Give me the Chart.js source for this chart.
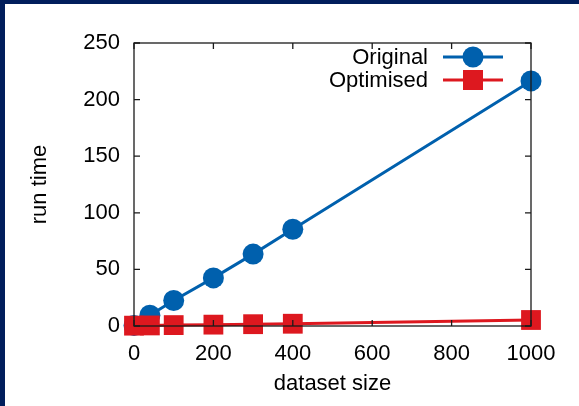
<!DOCTYPE html>
<html>
<head>
<meta charset="utf-8">
<script src="https://cdn.jsdelivr.net/npm/chart.js@4/dist/chart.umd.min.js"></script>
<style>
  html, body { margin: 0; padding: 0; background: #011e5c; }
  #wrap { position: absolute; left: 5px; top: 4px; width: 574px; height: 402px; background: #fff; }
</style>
</head>
<body>
<div id="wrap"><canvas id="c" width="574" height="402"></canvas></div>
<script>
    // dataset sizes (shared by both series)
    var sizes = [0, 40, 100, 200, 300, 400, 1000];
    var originalTimes = [0.5, 9.5, 22.5, 42.5, 63.5, 85.5, 216.5];
    var optimisedTimes = [0.3, 0.5, 0.8, 1.2, 1.6, 2.0, 5.3];
    var xTicks = [0, 200, 400, 600, 800, 1000];
    var yTicks = [0, 50, 100, 150, 200, 250];

    var BLUE = '#0060ad';
    var RED = '#dd181f';
    var FONT = 'Liberation Sans, Arial, Helvetica, sans-serif';

    var toPoints = function(xs, ys) {
        var pts = [];
        for (let i = 0; i < xs.length; ++i) {
            pts.push({x: xs[i], y: ys[i]});
        }
        return pts;
    };

    // gnuplot style frame with inward ticks on all four sides
    var framePlugin = {
        id: 'frame',
        afterDatasetsDraw: function(chart) {
            var ctx = chart.ctx;
            var a = chart.chartArea;
            var xs = chart.scales.x, ys = chart.scales.y;
            var len = 6;
            ctx.save();
            ctx.strokeStyle = '#1a1a1a';
            ctx.lineWidth = 1.3;
            ctx.strokeRect(a.left, a.top, a.right - a.left, a.bottom - a.top);
            ctx.beginPath();
            xTicks.forEach(function(v) {
                var px = xs.getPixelForValue(v);
                ctx.moveTo(px, a.bottom); ctx.lineTo(px, a.bottom - len);
                ctx.moveTo(px, a.top); ctx.lineTo(px, a.top + len);
            });
            yTicks.forEach(function(v) {
                var py = ys.getPixelForValue(v);
                ctx.moveTo(a.left, py); ctx.lineTo(a.left + len, py);
                ctx.moveTo(a.right, py); ctx.lineTo(a.right - len, py);
            });
            ctx.stroke();
            ctx.restore();
        },
        afterDraw: function(chart) {
            // key in the top right corner, text on the left of the sample
            var ctx = chart.ctx;
            var ds = chart.data.datasets;
            var rows = [53, 76];
            ctx.save();
            ctx.font = '22px ' + FONT;
            ctx.textAlign = 'right';
            ctx.textBaseline = 'middle';
            ds.forEach(function(d, i) {
                var y = rows[i];
                ctx.fillStyle = '#000';
                ctx.fillText(d.label, 423, y + 1);
                ctx.strokeStyle = d.borderColor;
                ctx.lineWidth = 3;
                ctx.beginPath();
                ctx.moveTo(438, y); ctx.lineTo(498, y);
                ctx.stroke();
                ctx.fillStyle = d.borderColor;
                if (d.pointStyle === 'rect') {
                    ctx.fillRect(468 - 10, y - 10, 20, 20);
                } else {
                    ctx.beginPath();
                    ctx.arc(468, y, 10.5, 0, Math.PI * 2);
                    ctx.fill();
                }
            });
            ctx.restore();
        }
    };

    Chart.defaults.font.family = FONT;
    Chart.defaults.font.size = 22;
    Chart.defaults.color = '#000';

    var chart = new Chart(document.getElementById('c'), {
        type: 'scatter',
        data: {
            datasets: [{
                label: 'Original',
                data: toPoints(sizes, originalTimes),
                showLine: true,
                borderColor: BLUE,
                backgroundColor: BLUE,
                borderWidth: 3,
                pointStyle: 'circle',
                pointRadius: 10.5,
                pointBorderWidth: 0,
                clip: false,
                order: 2,
            }, {
                label: 'Optimised',
                data: toPoints(sizes, optimisedTimes),
                showLine: true,
                borderColor: RED,
                backgroundColor: RED,
                borderWidth: 3,
                pointStyle: 'rect',
                pointRadius: 14,
                pointBorderWidth: 0,
                clip: false,
                order: 1,
            }]
        },
        options: {
            responsive: false,
            animation: false,
            events: [],
            layout: { padding: { top: 39, right: 48, left: 0, bottom: 0 } },
            plugins: { legend: { display: false }, tooltip: { enabled: false } },
            scales: {
                x: {
                    type: 'linear',
                    min: 0, max: 1000,
                    grid: { display: false, drawTicks: false },
                    border: { display: false },
                    afterBuildTicks: function(s) { s.ticks = xTicks.map(function(v) { return {value: v}; }); },
                    afterFit: function(s) { s.height = 80; },
                    ticks: { padding: 15, maxRotation: 0, autoSkip: false, callback: function(v) { return String(v); } },
                    title: { display: true, text: 'dataset size', padding: { top: 0, bottom: 9 } }
                },
                y: {
                    type: 'linear',
                    min: 0, max: 250,
                    grid: { display: false, drawTicks: false },
                    border: { display: false },
                    afterBuildTicks: function(s) { s.ticks = yTicks.map(function(v) { return {value: v}; }); },
                    afterFit: function(s) { s.width = 129; },
                    ticks: { padding: 14, callback: function(v) { return String(v); } },
                    title: { display: true, text: 'run time', padding: { top: 22, bottom: 0 } }
                }
            }
        },
        plugins: [framePlugin]
    });
</script>
</body>
</html>
